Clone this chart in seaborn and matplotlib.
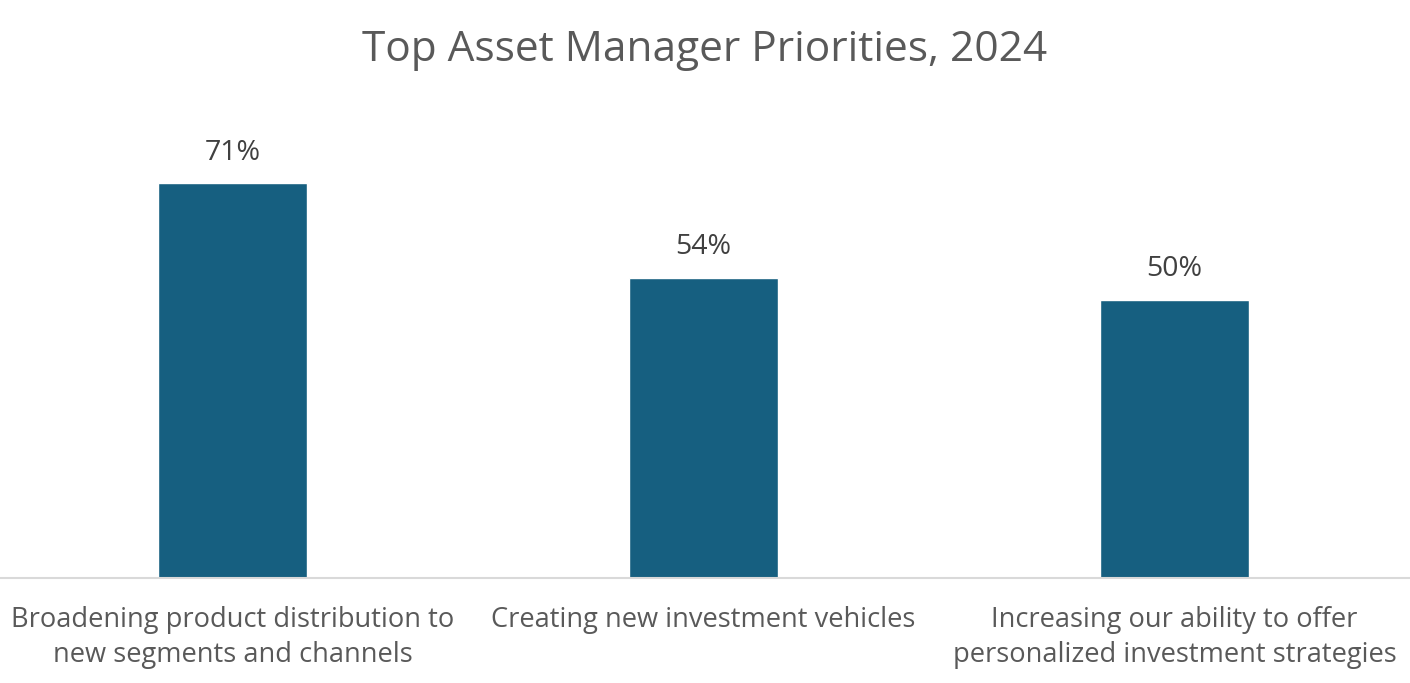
import matplotlib
matplotlib.use("Agg")
import matplotlib.pyplot as plt
import seaborn as sns
import pandas as pd

# données
categories = [
    "Broadening product distribution to\nnew segments and channels",
    "Creating new investment vehicles",
    "Increasing our ability to offer\npersonalized investment strategies",
]
values = [71, 54, 50]
labels = ["71%", "54%", "50%"]

df = pd.DataFrame({"priority": categories, "share": values})

sns.set_theme(style="white")
plt.rcParams["font.family"] = ["Open Sans", "DejaVu Sans"]

fig = plt.figure(figsize=(14.1, 6.83), dpi=100)
ax = fig.add_axes([-3 / 1410, 0.1537, 1413 / 1410, 0.651])

sns.barplot(data=df, x="priority", y="share", color="#165F80",
            width=0.316, saturation=1, ax=ax)

for patch, lab in zip(ax.patches, labels):
    ax.text(patch.get_x() + patch.get_width() / 2, patch.get_height() + 3.0, lab,
            ha="center", va="bottom", fontsize=20.5, color="#404040", clip_on=False)

ax.set_ylim(0, 80)
ax.set_xlim(-0.5, 2.5)
ax.set_yticks([])
ax.set_xlabel("")
ax.set_ylabel("")
for side in ["top", "left", "right"]:
    ax.spines[side].set_visible(False)
ax.spines["bottom"].set_color("#D9D9D9")
ax.spines["bottom"].set_linewidth(1.5)
ax.tick_params(axis="x", length=0, pad=20, labelsize=19.6, labelcolor="#595959")
for t in ax.get_xticklabels():
    t.set_linespacing(1.32)

fig.suptitle("Top Asset Manager Priorities, 2024", fontsize=30.5, color="#595959", y=0.957)

fig.savefig("out.png", dpi=100)
